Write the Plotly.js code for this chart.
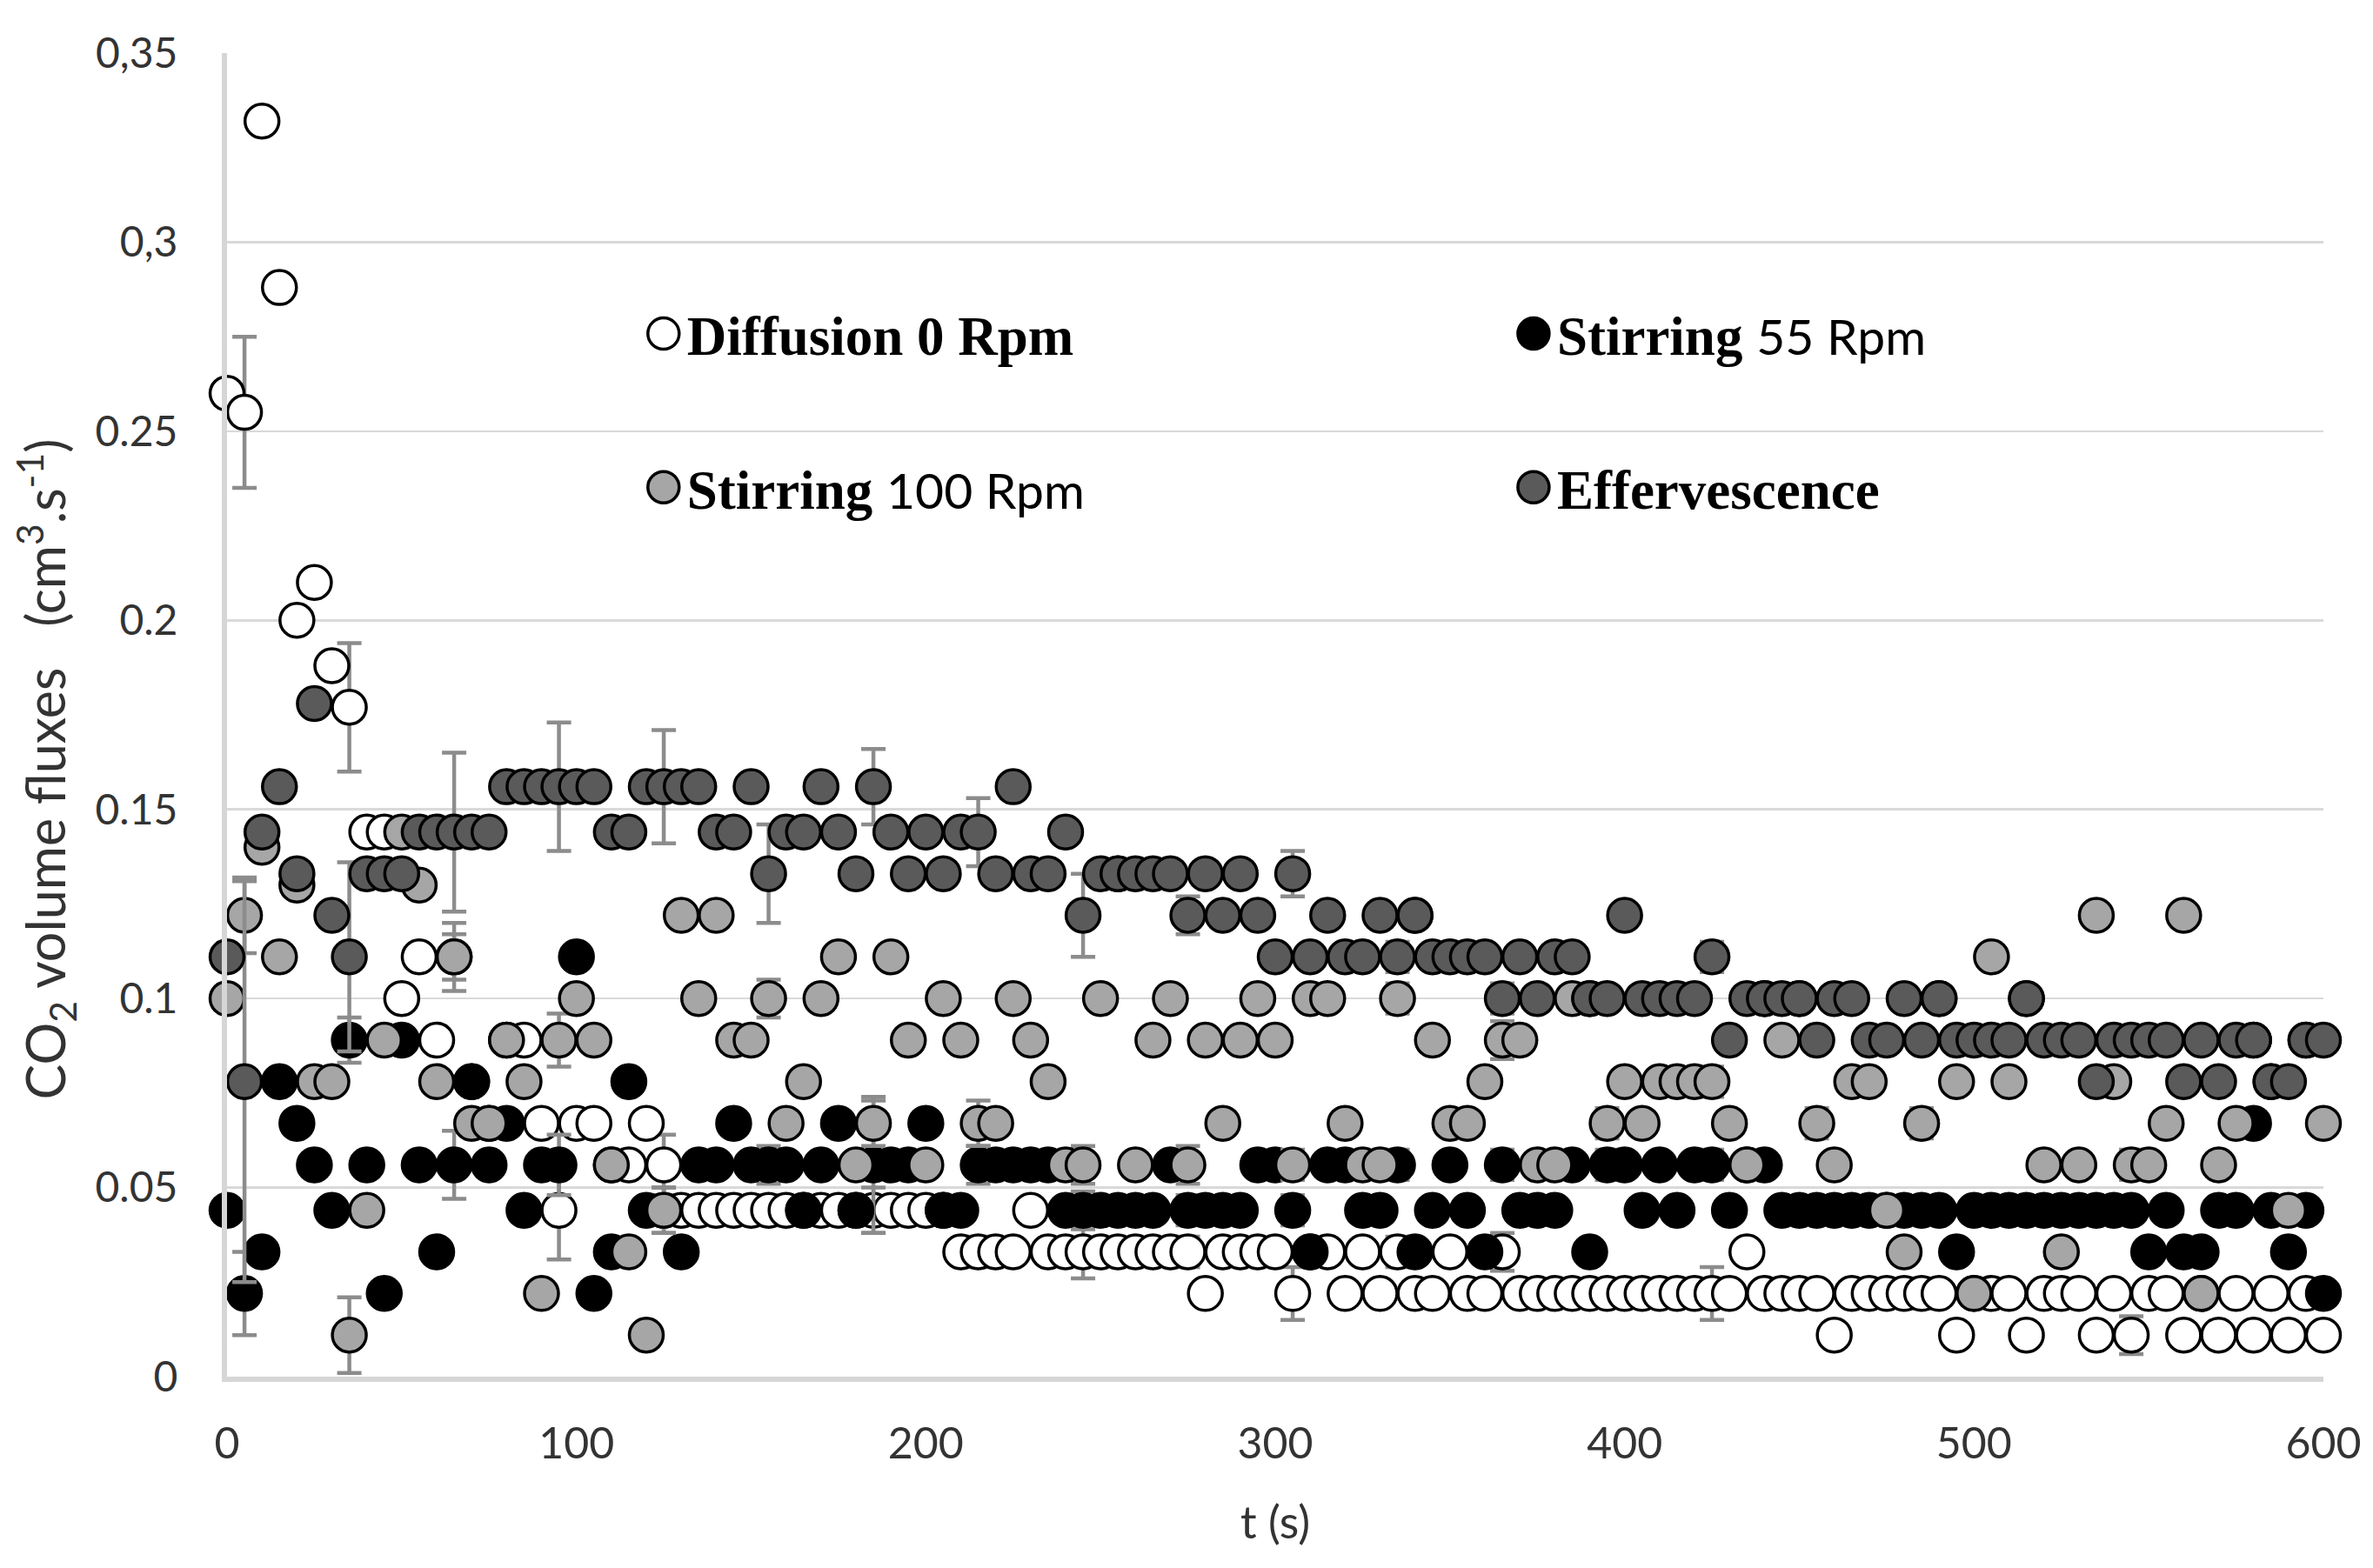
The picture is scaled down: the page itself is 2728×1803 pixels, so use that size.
<!DOCTYPE html>
<html>
<head>
<meta charset="utf-8">
<script src="https://cdn.plot.ly/plotly-3.0.1.min.js"></script>
<style>html,body{margin:0;padding:0;background:#fff;}#chart{width:2728px;height:1803px;}</style>
</head>
<body>
<div id="chart"></div>
<script>
// time (s)
const time = [0,5,10,15,20,25,30,35,40,45,50,55,60,65,70,75,80,85,90,95,100,105,110,115,120,125,130,135,140,145,150,155,160,165,170,175,180,185,190,195,200,205,210,215,220,225,230,235,240,245,250,255,260,265,270,275,280,285,290,295,300,305,310,315,320,325,330,335,340,345,350,355,360,365,370,375,380,385,390,395,400,405,410,415,420,425,430,435,440,445,450,455,460,465,470,475,480,485,490,495,500,505,510,515,520,525,530,535,540,545,550,555,560,565,570,575,580,585,590,595,600];

// CO2 volume fluxes (cm3.s-1)
const diffusion0 = [0.26,0.255,0.332,0.288,0.2,0.21,0.188,0.177,0.144,0.144,0.1,0.111,0.089,0.111,0.078,0.067,0.089,0.089,0.067,0.044,0.067,0.067,0.056,0.056,0.067,0.056,0.044,0.044,0.044,0.044,0.044,0.044,0.044,0.044,0.044,0.044,0.044,0.044,0.044,0.044,0.044,0.044,0.033,0.033,0.033,0.033,0.044,0.033,0.033,0.033,0.033,0.033,0.033,0.033,0.033,0.033,0.022,0.033,0.033,0.033,0.033,0.022,0.033,0.033,0.022,0.033,0.022,0.033,0.022,0.022,0.033,0.022,0.022,0.033,0.022,0.022,0.022,0.022,0.022,0.022,0.022,0.022,0.022,0.022,0.022,0.022,0.022,0.033,0.022,0.022,0.022,0.022,0.011,0.022,0.022,0.022,0.022,0.022,0.022,0.011,0.022,0.022,0.022,0.011,0.022,0.022,0.022,0.011,0.022,0.011,0.022,0.022,0.011,0.022,0.011,0.022,0.011,0.022,0.011,0.022,0.011];

const stirring55 = [0.044,0.022,0.033,0.078,0.067,0.056,0.044,0.089,0.056,0.022,0.089,0.056,0.033,0.056,0.078,0.056,0.067,0.044,0.056,0.056,0.111,0.022,0.033,0.078,0.044,0.044,0.033,0.056,0.056,0.067,0.056,0.056,0.056,0.044,0.056,0.067,0.044,0.056,0.056,0.056,0.067,0.044,0.044,0.056,0.056,0.056,0.056,0.056,0.044,0.044,0.044,0.044,0.044,0.044,0.056,0.044,0.044,0.044,0.044,0.056,0.056,0.044,0.033,0.056,0.056,0.044,0.044,0.056,0.033,0.044,0.056,0.044,0.033,0.056,0.044,0.044,0.044,0.056,0.033,0.056,0.056,0.044,0.056,0.044,0.056,0.056,0.044,0.056,0.056,0.044,0.044,0.044,0.044,0.044,0.044,0.044,0.044,0.044,0.044,0.033,0.044,0.044,0.044,0.044,0.044,0.044,0.044,0.044,0.044,0.044,0.033,0.044,0.033,0.033,0.044,0.044,0.067,0.044,0.033,0.044,0.022];

const stirring100 = [0.1,0.122,0.14,0.111,0.13,0.078,0.078,0.011,0.044,0.089,0.144,0.13,0.078,0.111,0.067,0.067,0.089,0.078,0.022,0.089,0.1,0.089,0.056,0.033,0.011,0.044,0.122,0.1,0.122,0.089,0.089,0.1,0.067,0.078,0.1,0.111,0.056,0.067,0.111,0.089,0.056,0.1,0.089,0.067,0.067,0.1,0.089,0.078,0.056,0.056,0.1,0.133,0.056,0.089,0.1,0.056,0.089,0.067,0.089,0.1,0.089,0.056,0.1,0.1,0.067,0.056,0.056,0.1,0.122,0.089,0.067,0.067,0.078,0.089,0.089,0.056,0.056,0.1,0.1,0.067,0.078,0.067,0.078,0.078,0.078,0.078,0.067,0.056,0.1,0.089,0.1,0.067,0.056,0.078,0.078,0.044,0.033,0.067,0.1,0.078,0.022,0.111,0.078,0.1,0.056,0.033,0.056,0.122,0.078,0.056,0.056,0.067,0.122,0.022,0.056,0.067,0.089,0.078,0.044,0.089,0.067];

const effervescence = [0.111,0.078,0.144,0.156,0.133,0.178,0.122,0.111,0.133,0.133,0.133,0.144,0.144,0.144,0.144,0.144,0.156,0.156,0.156,0.156,0.156,0.156,0.144,0.144,0.156,0.156,0.156,0.156,0.144,0.144,0.156,0.133,0.144,0.144,0.156,0.144,0.133,0.156,0.144,0.133,0.144,0.133,0.144,0.144,0.133,0.156,0.133,0.133,0.144,0.122,0.133,0.133,0.133,0.133,0.133,0.122,0.133,0.122,0.133,0.122,0.111,0.133,0.111,0.122,0.111,0.111,0.122,0.111,0.122,0.111,0.111,0.111,0.111,0.1,0.111,0.1,0.111,0.111,0.1,0.1,0.122,0.1,0.1,0.1,0.1,0.111,0.089,0.1,0.1,0.1,0.1,0.089,0.1,0.1,0.089,0.089,0.1,0.089,0.1,0.089,0.089,0.089,0.089,0.1,0.089,0.089,0.089,0.078,0.089,0.089,0.089,0.089,0.078,0.089,0.078,0.089,0.089,0.078,0.078,0.089,0.089];

// error bars (standard deviation) at sampled times
const errTime = [5,35,65,95,125,155,185,215,245,275,305,335,365,395,425,455,485,515,545,575];
const errDiffusion0 = [0.02,0.017,0.006,0.013,0.008,0.004,0.006,0.004,0.007,0.004,0.007,0.004,0.005,0.003,0.007,0.003,0.004,0.003,0.005,0.003];
const errStirring55 = [0.011,0.006,0.009,0.008,0.006,0.005,0.018,0.005,0.005,0.004,0.004,0.004,0.004,0.004,0.004,0.003,0.003,0.003,0.003,0.003];
const errStirring100 = [0.01,0.01,0.009,0.007,0.006,0.005,0.006,0.006,0.005,0.005,0.004,0.004,0.005,0.004,0.004,0.004,0.004,0.003,0.004,0.003];
const errEffervescence = [0.053,0.025,0.021,0.017,0.015,0.013,0.01,0.009,0.011,0.005,0.006,0.004,0.004,0.003,0.004,0.003,0.003,0.003,0.003,0.003];

const yTickVals = [0,0.05,0.1,0.15,0.2,0.25,0.3,0.35];
const yTickText = ['0','0.05','0.1','0.15','0.2','0.25','0,3','0,35'];
const xTickVals = [0,100,200,300,400,500,600];

function fullErr(errVals){
  return time.map(t => { const i = errTime.indexOf(t); return i >= 0 ? errVals[i] : null; });
}

const MS = 39, MLW = 3.5;
function mk(name, y, err, fill, legendId){
  return {
    type:'scatter', mode:'markers', name:name, x:time, y:y, legend:legendId,
    cliponaxis:false,
    marker:{symbol:'circle', size:MS, color:fill, line:{color:'#000000', width:MLW}},
    error_y:{type:'data', array:fullErr(err), visible:true, color:'#8c8c8c', thickness:4.5, width:14}
  };
}
const sans = 'Lato, "Open Sans", sans-serif';
const rpmSpan = '<span style="font-family:Lato;font-weight:normal;font-size:57px">';
const traces = [
  mk('Diffusion 0 Rpm', diffusion0, errDiffusion0, '#ffffff', 'legend'),
  mk('Stirring ' + rpmSpan + '55 Rpm</span>', stirring55, errStirring55, '#000000', 'legend2'),
  mk('Stirring ' + rpmSpan + '100 Rpm</span>', stirring100, errStirring100, '#a6a6a6', 'legend3'),
  mk('Effervescence', effervescence, errEffervescence, '#5a5a5a', 'legend4')
];

const legFont = {family:'"Liberation Serif", "DejaVu Serif", serif', size:63, color:'#000000', weight:'bold'};
function leg(x, y){
  return {x:x, y:y, xanchor:'left', yanchor:'middle', orientation:'v', itemwidth:44, bgcolor:'rgba(0,0,0,0)', borderwidth:0, font:legFont, itemclick:false, itemdoubleclick:false};
}

const layout = {
  width:2728, height:1803,
  margin:{l:261, r:57, t:61, b:220, pad:0},
  paper_bgcolor:'#ffffff', plot_bgcolor:'#ffffff',
  font:{family:sans, color:'#333333', size:50},
  showlegend:true,
  legend: leg(0.197, 0.788),
  legend2: leg(0.612, 0.788),
  legend3: leg(0.197, 0.672),
  legend4: leg(0.612, 0.672),
  xaxis:{
    range:[0,600], tickvals:xTickVals, ticks:'', showgrid:false, zeroline:false,
    showline:true, linecolor:'#d6d6d6', linewidth:6,
    tickfont:{family:sans, size:50, color:'#333333'}, ticklabelstandoff:28,
    title:{text:'t (s)', font:{family:sans, size:52, color:'#333333'}, standoff:48}
  },
  yaxis:{
    range:[0,0.35], tickvals:yTickVals, ticktext:yTickText, ticks:'',
    showgrid:true, gridcolor:'#d9d9d9', gridwidth:2.5, zeroline:false,
    showline:true, linecolor:'#d6d6d6', linewidth:6,
    tickfont:{family:sans, size:48, color:'#333333'}, ticklabelstandoff:41,
    title:{text:'CO<sub>2</sub> volume fluxes&nbsp;&nbsp;&nbsp;(cm<sup>3</sup>.s<sup>-1</sup>)&nbsp;&nbsp;&nbsp;&nbsp;&nbsp;&nbsp;&nbsp;&nbsp;', font:{family:sans, size:61, color:'#333333'}, standoff:16}
  }
};

Plotly.newPlot('chart', traces, layout, {displayModeBar:false, staticPlot:true}).then(function(gd){
  const r = 18;
  gd.querySelectorAll('.legendpoints path.scatterpts').forEach(function(p){
    p.setAttribute('d', 'M'+r+',0A'+r+','+r+' 0 1,1 0,-'+r+'A'+r+','+r+' 0 0,1 '+r+',0Z');
  });
});
</script>
</body>
</html>
